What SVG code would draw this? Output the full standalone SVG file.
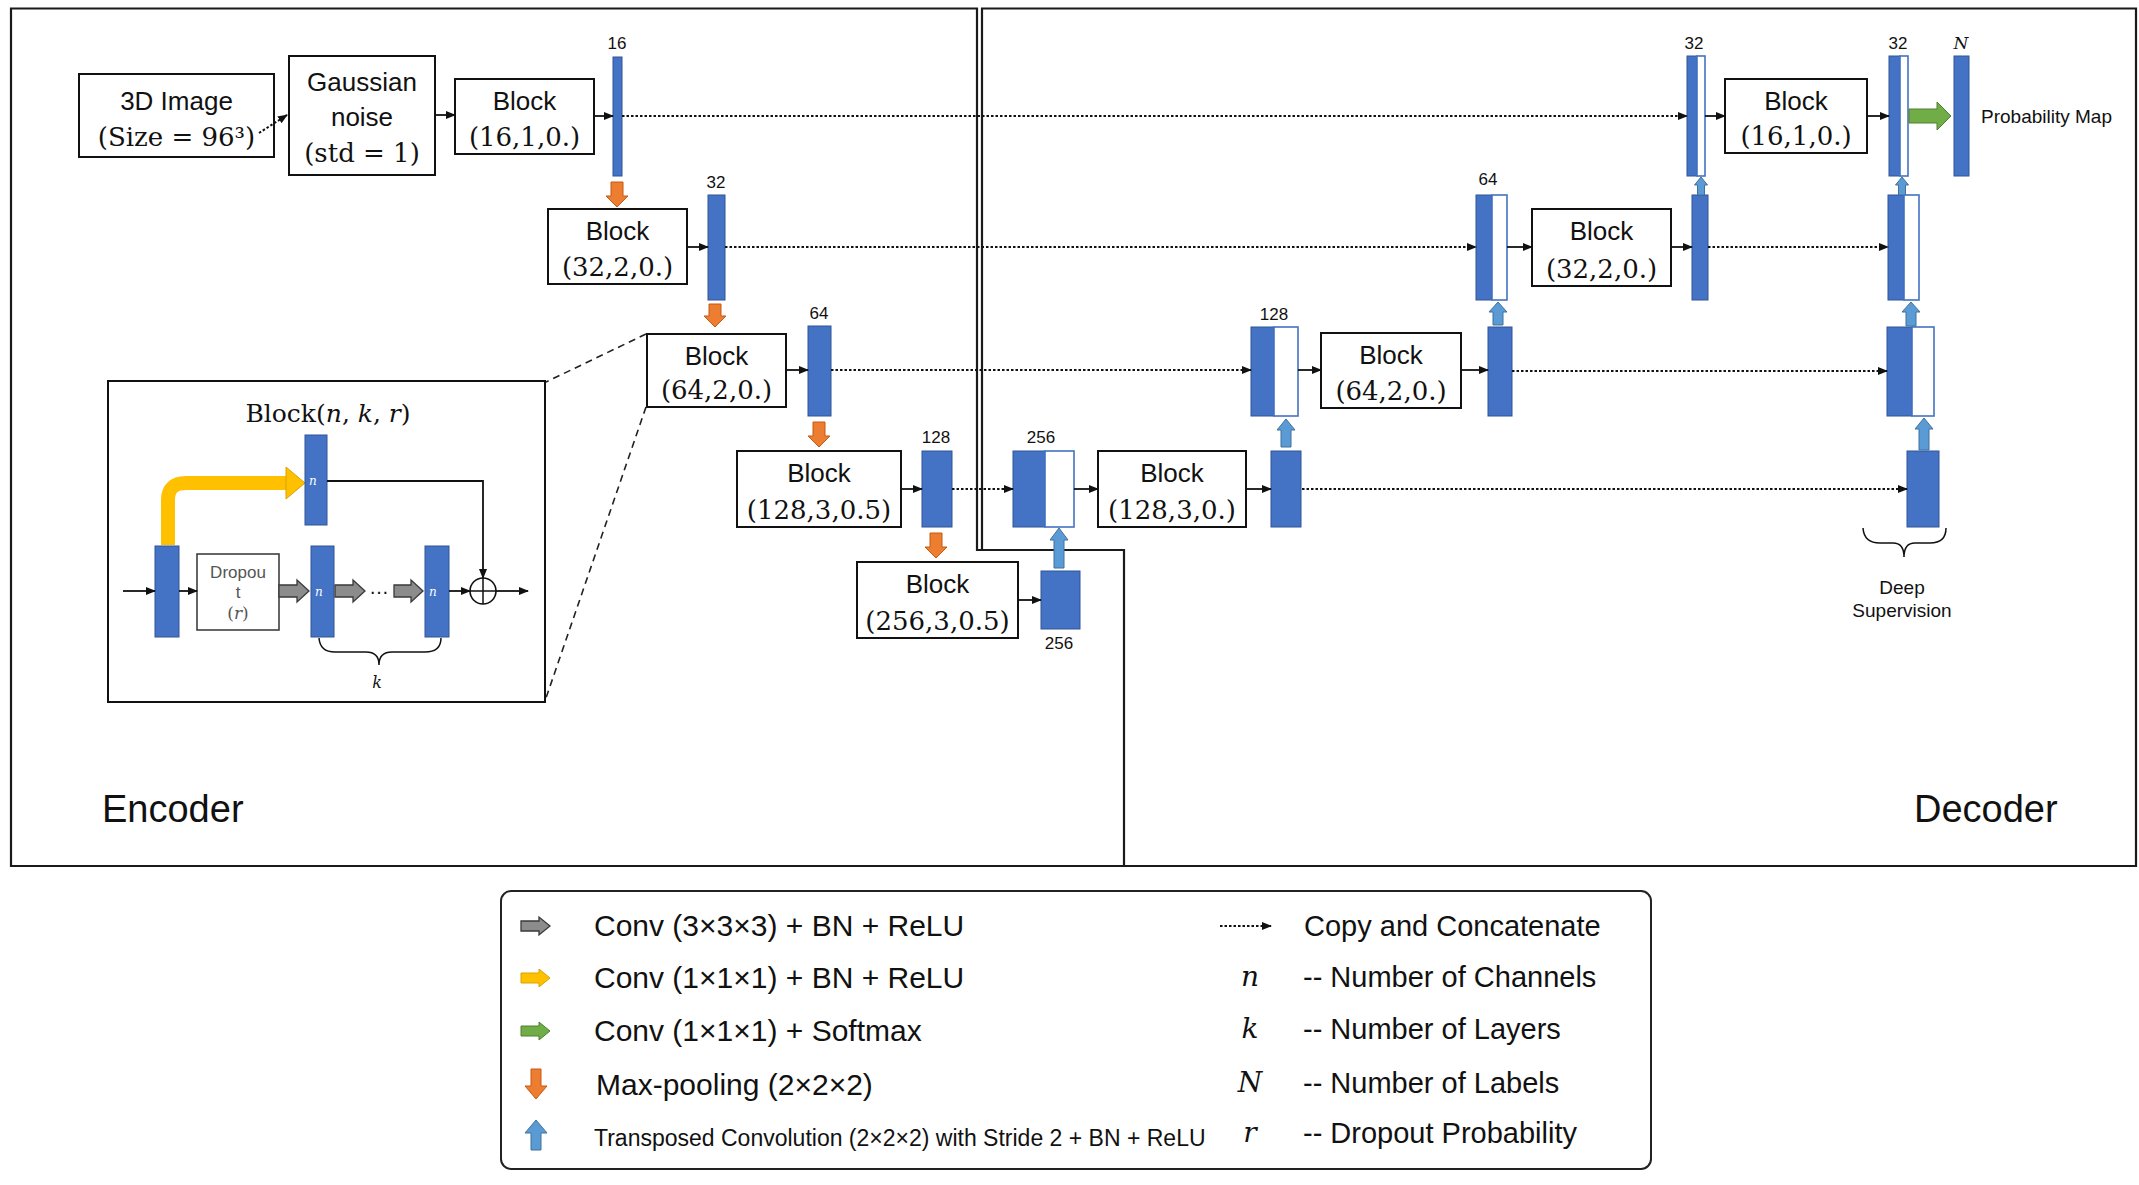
<svg xmlns="http://www.w3.org/2000/svg" width="2139" height="1185" viewBox="0 0 2139 1185">
<style>
.frame{fill:none;stroke:#1a1a1a;stroke-width:2.2}
.box{fill:#fff;stroke:#111;stroke-width:2}
.bar{fill:#4472C4;stroke:#2F5597;stroke-width:1}
.wbar{fill:#fff;stroke:#4472C4;stroke-width:1.6}
.sans{font-family:"Liberation Sans",Arial,sans-serif;fill:#111}
.serif{font-family:"DejaVu Serif","Liberation Serif",serif;fill:#111}
.bt{font-size:26px;text-anchor:middle}
.lab{font-size:17px;text-anchor:middle}
.lnk{stroke:#111;stroke-width:1.8;fill:none;marker-end:url(#ah)}
.dot{stroke:#111;stroke-width:2;stroke-dasharray:2.5 2;fill:none;marker-end:url(#ah)}
.thin{stroke:#111;stroke-width:1.5;fill:none}
.dash{stroke:#222;stroke-width:1.6;stroke-dasharray:7 5;fill:none}
.orange{fill:#ED7D31;stroke:#C55A11;stroke-width:1}
.blue{fill:#5B9BD5;stroke:#41719C;stroke-width:1}
.gray{fill:#8C8C8C;stroke:#3a3a3a;stroke-width:1.3}
.yellow{fill:#FFC000;stroke:#D9A400;stroke-width:1}
.green{fill:#70AD47;stroke:#507E32;stroke-width:1}
.lg{font-size:30px}
.lg2{font-size:29px}
.nin{font-family:"DejaVu Serif","Liberation Serif",serif;font-style:italic;font-size:12px;fill:#fff}
</style>
<defs>
<marker id="ah" markerUnits="userSpaceOnUse" markerWidth="10" markerHeight="8" refX="9" refY="4" orient="auto">
<path d="M0,0 L10,4 L0,8 Z" fill="#111"/>
</marker>
</defs>
<rect width="2139" height="1185" fill="#fff"/>

<g id="frames">
<path class="frame" d="M11,8.5 H977 V550 H1124 V866 H11 Z"/>
<path class="frame" d="M982,550 V8.5 H2136 V866 H1124"/>
<text class="sans" x="102" y="822" font-size="38">Encoder</text>
<text class="sans" x="1914" y="822" font-size="38">Decoder</text>
</g>

<g id="input">
<rect class="box" x="79" y="74" width="195" height="83"/>
<text class="sans bt" x="176.5" y="110">3D Image</text>
<text class="serif bt" x="176.5" y="146">(Size = 96³)</text>
</g>
<g id="gauss">
<rect class="box" x="289" y="56" width="146" height="119"/>
<text class="sans bt" x="362" y="91">Gaussian</text>
<text class="sans bt" x="362" y="126">noise</text>
<text class="serif bt" x="362" y="162">(std = 1)</text>
</g>

<g id="enc-block16">
<rect class="box" x="455" y="79" width="139" height="75"/>
<text class="sans bt" x="524.5" y="110">Block</text>
<text class="serif bt" x="524.5" y="146">(16,1,0.)</text>
</g>
<g id="enc-block32">
<rect class="box" x="548" y="209" width="139" height="75"/>
<text class="sans bt" x="617.5" y="240">Block</text>
<text class="serif bt" x="617.5" y="276">(32,2,0.)</text>
</g>
<g id="enc-block64">
<rect class="box" x="647" y="334" width="139" height="73"/>
<text class="sans bt" x="716.5" y="365">Block</text>
<text class="serif bt" x="716.5" y="399">(64,2,0.)</text>
</g>
<g id="enc-block128">
<rect class="box" x="737" y="451" width="164" height="76"/>
<text class="sans bt" x="819" y="482">Block</text>
<text class="serif bt" x="819" y="519">(128,3,0.5)</text>
</g>
<g id="enc-block256">
<rect class="box" x="857" y="562" width="161" height="76"/>
<text class="sans bt" x="937.5" y="593">Block</text>
<text class="serif bt" x="937.5" y="630">(256,3,0.5)</text>
</g>
<g id="dec-block128">
<rect class="box" x="1098" y="451" width="148" height="76"/>
<text class="sans bt" x="1172" y="482">Block</text>
<text class="serif bt" x="1172" y="519">(128,3,0.)</text>
</g>
<g id="dec-block64">
<rect class="box" x="1321" y="333" width="140" height="75"/>
<text class="sans bt" x="1391" y="364">Block</text>
<text class="serif bt" x="1391" y="400">(64,2,0.)</text>
</g>
<g id="dec-block32">
<rect class="box" x="1532" y="209" width="139" height="77"/>
<text class="sans bt" x="1601.5" y="240">Block</text>
<text class="serif bt" x="1601.5" y="278">(32,2,0.)</text>
</g>
<g id="dec-block16">
<rect class="box" x="1725" y="79" width="142" height="74"/>
<text class="sans bt" x="1796" y="110">Block</text>
<text class="serif bt" x="1796" y="145">(16,1,0.)</text>
</g>

<g id="enc-bars">
<rect class="bar" x="613" y="57" width="9" height="119"/>
<text class="sans lab" x="617" y="49">16</text>
<rect class="bar" x="708" y="195" width="17" height="105"/>
<text class="sans lab" x="716" y="188">32</text>
<rect class="bar" x="808" y="326" width="23" height="90"/>
<text class="sans lab" x="819" y="319">64</text>
<rect class="bar" x="922" y="451" width="30" height="76"/>
<text class="sans lab" x="936" y="443">128</text>
<rect class="bar" x="1041" y="571" width="39" height="58"/>
<text class="sans lab" x="1059" y="649">256</text>
</g>

<g id="dec-bars">
<rect class="bar" x="1013" y="451" width="32" height="76"/>
<rect class="wbar" x="1045" y="451" width="29" height="76"/>
<text class="sans lab" x="1041" y="443">256</text>
<rect class="bar" x="1271" y="451" width="30" height="76"/>
<rect class="bar" x="1907" y="451" width="32" height="76"/>

<rect class="bar" x="1251" y="327" width="23" height="89"/>
<rect class="wbar" x="1274" y="327" width="24" height="89"/>
<text class="sans lab" x="1274" y="320">128</text>
<rect class="bar" x="1488" y="327" width="24" height="89"/>
<rect class="bar" x="1887" y="327" width="25" height="89"/>
<rect class="wbar" x="1912" y="327" width="22" height="89"/>

<rect class="bar" x="1476" y="195" width="16" height="105"/>
<rect class="wbar" x="1492" y="195" width="15" height="105"/>
<text class="sans lab" x="1488" y="185">64</text>
<rect class="bar" x="1692" y="195" width="16" height="105"/>
<rect class="bar" x="1888" y="195" width="16" height="105"/>
<rect class="wbar" x="1904" y="195" width="15" height="105"/>

<rect class="bar" x="1687" y="56" width="10" height="120"/>
<rect class="wbar" x="1697" y="56" width="8" height="120"/>
<text class="sans lab" x="1694" y="49">32</text>
<rect class="bar" x="1889" y="56" width="11" height="120"/>
<rect class="wbar" x="1900" y="56" width="8" height="120"/>
<text class="sans lab" x="1898" y="49">32</text>
<rect class="bar" x="1954" y="56" width="15" height="120"/>
<text class="serif lab" x="1961" y="49" font-style="italic">N</text>
<text class="sans" x="1981" y="123" font-size="19">Probability Map</text>
</g>

<g id="deep-supervision">
<path class="thin" d="M1863,528 Q1864,543 1880,543 L1893,543 Q1904,543 1904,557 Q1904,543 1915,543 L1930,543 Q1946,543 1946,528"/>
<text class="sans" x="1902" y="594" font-size="19" text-anchor="middle">Deep</text>
<text class="sans" x="1902" y="617" font-size="19" text-anchor="middle">Supervision</text>
</g>

<g id="pool-arrows">
<path class="orange" d="M611,182 V196 H606 L617,207 L628,196 H623 V182 Z"/>
<path class="orange" d="M709,304 V316 H704 L715,327 L726,316 H721 V304 Z"/>
<path class="orange" d="M813,422 V436 H808 L819,447 L830,436 H825 V422 Z"/>
<path class="orange" d="M930,533 V547 H925 L936,558 L947,547 H942 V533 Z"/>
</g>

<g id="up-arrows">
<path class="blue" d="M1054,568 V540 H1050 L1059,528 L1068,540 H1064 V568 Z"/>
<path class="blue" d="M1281,447 V430 H1277 L1286,419 L1295,430 H1291 V447 Z"/>
<path class="blue" d="M1493,325 V312 H1489 L1498,302 L1507,312 H1503 V325 Z"/>
<path class="blue" d="M1697.5,195 V185 H1694.5 L1701,177 L1707.5,185 H1704.5 V195 Z"/>
<path class="blue" d="M1919,450 V429 H1915 L1924,418 L1933,429 H1929 V450 Z"/>
<path class="blue" d="M1906,326 V312 H1902 L1911,302 L1920,312 H1916 V326 Z"/>
<path class="blue" d="M1898.5,195 V185 H1895.5 L1902,177 L1908.5,185 H1905.5 V195 Z"/>
<path class="green" d="M1909,109 H1937 V102 L1951,116 L1937,130 V123 H1909 Z"/>
</g>

<g id="connectors">
<path class="dot" d="M259,133 L287,115"/>
<path class="lnk" d="M435,115 H455"/>
<path class="lnk" d="M594,116 H613"/>
<path class="dot" d="M622,116 H1687"/>
<path class="lnk" d="M1705,116 H1725"/>
<path class="lnk" d="M1867,116 H1889"/>
<path class="lnk" d="M687,247 H708"/>
<path class="dot" d="M725,247 H1476"/>
<path class="lnk" d="M1507,247 H1532"/>
<path class="lnk" d="M1671,247 H1692"/>
<path class="dot" d="M1708,247 H1888"/>
<path class="lnk" d="M786,370 H808"/>
<path class="dot" d="M831,370 H1251"/>
<path class="lnk" d="M1298,370 H1321"/>
<path class="lnk" d="M1461,370 H1488"/>
<path class="dot" d="M1512,371 H1887"/>
<path class="lnk" d="M901,489 H922"/>
<path class="dot" d="M952,489 H1013"/>
<path class="lnk" d="M1074,489 H1098"/>
<path class="lnk" d="M1246,489 H1271"/>
<path class="dot" d="M1302,489 H1907"/>
<path class="lnk" d="M1018,600 H1041"/>
<path class="dash" d="M646,334 L546,382"/>
<path class="dash" d="M646,407 L546,698"/>
</g>

<g id="block-detail">
<rect class="box" x="108" y="381" width="437" height="321"/>
<text class="serif" x="328" y="422" font-size="25" text-anchor="middle">Block(<tspan font-style="italic">n</tspan>, <tspan font-style="italic">k</tspan>, <tspan font-style="italic">r</tspan>)</text>
<path d="M168,545 V500 Q168,483 186,483 H288" fill="none" stroke="#FFC000" stroke-width="14"/>
<path class="yellow" d="M286,467 L305,483 L286,499 Z"/>
<rect class="bar" x="305" y="435" width="22" height="90"/>
<text class="nin" x="309" y="485">n</text>
<path class="lnk" d="M327,481 H483 V578"/>
<rect class="bar" x="155" y="546" width="24" height="91"/>
<rect x="197" y="554" width="82" height="76" fill="#fff" stroke="#333" stroke-width="1.5"/>
<text class="sans" x="238" y="578" font-size="17" text-anchor="middle" style="fill:#555">Dropou</text>
<text class="sans" x="238" y="598" font-size="17" text-anchor="middle" style="fill:#555">t</text>
<text class="serif" x="238" y="619" font-size="17" text-anchor="middle" style="fill:#555">(<tspan font-style="italic">r</tspan>)</text>
<rect class="bar" x="311" y="546" width="23" height="91"/>
<text class="nin" x="315" y="596">n</text>
<rect class="bar" x="425" y="546" width="24" height="91"/>
<text class="nin" x="429" y="596">n</text>
<path class="gray" d="M279,585 H297 V580 L309,591 L297,602 V597 H279 Z"/>
<path class="gray" d="M335,585 H353 V580 L365,591 L353,602 V597 H335 Z"/>
<path class="gray" d="M394,585 H411 V580 L423,591 L411,602 V597 H394 Z"/>
<text class="sans" x="379" y="594" font-size="20" text-anchor="middle">…</text>
<path class="lnk" d="M123,591 H155"/>
<path class="lnk" d="M179,591 H197"/>
<path class="lnk" d="M449,591 H470"/>
<path class="lnk" d="M496,591 H528"/>
<circle cx="483" cy="591" r="13" fill="none" stroke="#111" stroke-width="1.6"/>
<path class="thin" d="M470,591 H496 M483,578 V604"/>
<path class="thin" d="M319,638 Q320,652 335,652 L366,652 Q379,652 379,665 Q379,652 392,652 L425,652 Q441,652 441,638"/>
<text class="serif" x="377" y="688" font-size="16" font-style="italic" text-anchor="middle">k</text>
</g>

<g id="legend">
<rect x="501" y="891" width="1150" height="278" rx="10" fill="#fff" stroke="#222" stroke-width="2"/>
<path class="gray" d="M521,921 H539 V917 L550,926 L539,935 V931 H521 Z"/>
<text class="sans lg" x="594" y="936">Conv (3×3×3) + BN + ReLU</text>
<path class="yellow" d="M521,973 H539 V969 L550,978 L539,987 V983 H521 Z"/>
<text class="sans lg" x="594" y="988">Conv (1×1×1) + BN + ReLU</text>
<path class="green" d="M521,1026 H539 V1022 L550,1031 L539,1040 V1036 H521 Z"/>
<text class="sans lg" x="594" y="1041">Conv (1×1×1) + Softmax</text>
<path class="orange" d="M531,1069 V1086 H525 L536,1099 L547,1086 H541 V1069 Z"/>
<text class="sans lg" x="596" y="1095">Max-pooling (2×2×2)</text>
<path class="blue" d="M531,1150 V1133 H525 L536,1120 L547,1133 H541 V1150 Z"/>
<text class="sans" x="594" y="1146" font-size="23">Transposed Convolution (2×2×2) with Stride 2 + BN + ReLU</text>
<path class="dot" d="M1220,926 H1271"/>
<text class="sans lg2" x="1304" y="936">Copy and Concatenate</text>
<text class="serif" x="1250" y="986" font-size="28" font-style="italic" text-anchor="middle">n</text>
<text class="sans lg2" x="1303" y="987">-- Number of Channels</text>
<text class="serif" x="1250" y="1038" font-size="28" font-style="italic" text-anchor="middle">k</text>
<text class="sans lg2" x="1303" y="1039">-- Number of Layers</text>
<text class="serif" x="1250" y="1092" font-size="28" font-style="italic" text-anchor="middle">N</text>
<text class="sans lg2" x="1303" y="1093">-- Number of Labels</text>
<text class="serif" x="1250" y="1142" font-size="28" font-style="italic" text-anchor="middle">r</text>
<text class="sans lg2" x="1303" y="1143">-- Dropout Probability</text>
</g>
</svg>
